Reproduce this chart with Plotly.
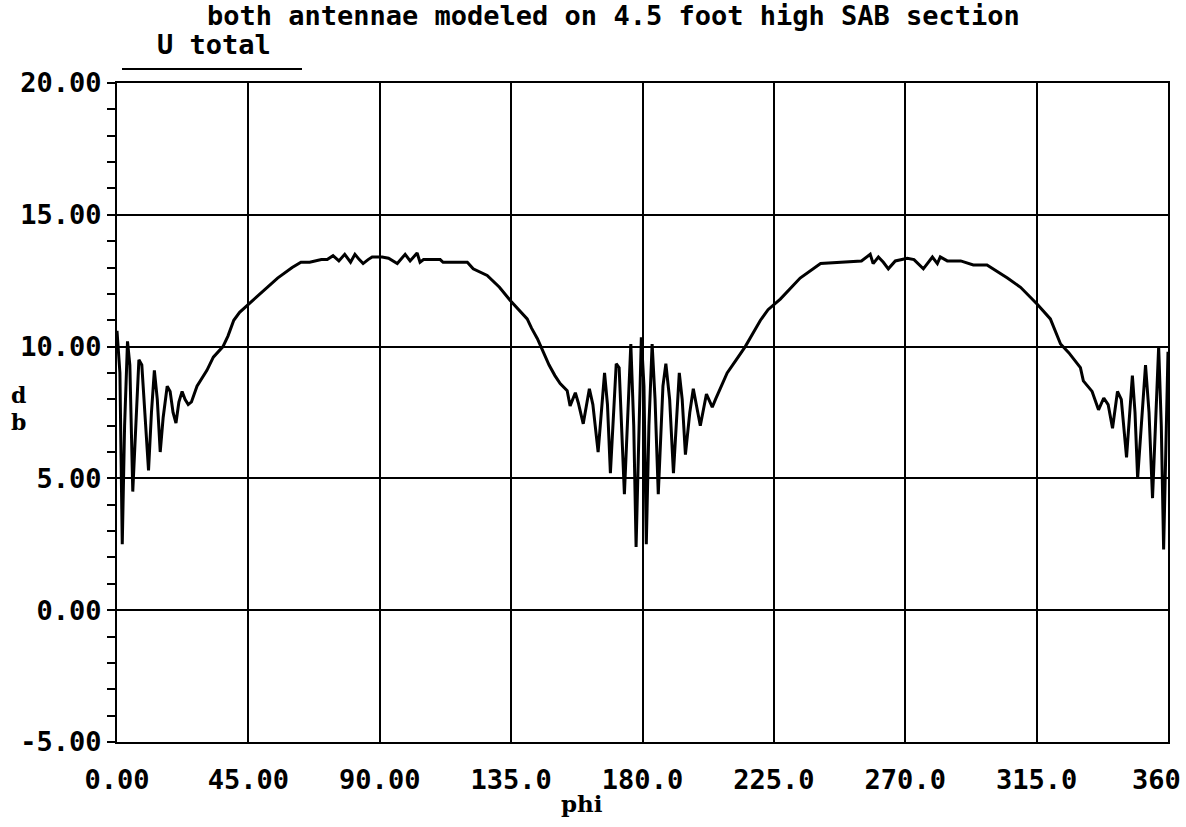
import plotly.graph_objects as go

phi = [0, 1, 1.8, 2.6, 3.6, 4.4, 5.4, 6.3, 7.5, 8.5, 9.5, 10.8, 11.8, 12.8, 13.8, 14.8, 15.8,
       17.2, 18.2, 19.2, 20.2, 21.2, 22.3, 23.3, 24.4, 25.5, 27.4, 29, 30.8, 33, 36.3, 38, 40,
       42, 45, 50, 55, 60, 63, 66, 70, 72, 74, 76, 78, 80, 81.5, 83, 84.3, 86, 87.4, 90.8, 93,
       96, 98.7, 100.4, 102.8, 103.8, 105, 110.7, 111.7, 120, 122, 126.8, 131, 134.7, 140.5,
       142, 144, 146, 148, 150, 151.8, 154.2, 155.2, 157, 158, 159.7, 161.8, 163, 164.8, 167,
       168, 169, 171, 172, 173.8, 176, 177, 177.8, 178.5, 179.6, 180.5, 181.3, 182.2, 183.3,
       184.3, 185.4, 187, 188, 189.3, 190.6, 192.6, 193.6, 194.7, 196.2, 197.4, 198.5, 199.8,
       201.9, 203.9, 205, 206.6, 209, 211.8, 215.2, 220.4, 223, 227.2, 234, 241, 250, 255, 258,
       259, 260.8, 262.5, 264.2, 266.6, 270.7, 273, 276.2, 279.3, 281, 282, 284.4, 289, 293.3,
       298, 305, 309.5, 315.3, 319.7, 323.2, 326, 330, 331, 334, 336.2, 338, 339.5, 341, 342.7,
       344, 345.8, 347.8, 348.7, 349.6, 352.3, 353.5, 354.7, 356.8, 357.7, 358.5, 359.3, 360]

u_total_db = [10.6, 9.0, 2.5, 7.0, 10.2, 9.3, 4.5, 6.5, 9.5, 9.3, 7.5, 5.3, 7.5, 9.1, 8.0, 6.0, 7.3,
              8.5, 8.3, 7.5, 7.1, 7.9, 8.3, 8.0, 7.8, 7.9, 8.5, 8.8, 9.1, 9.6, 10.0, 10.4, 11.0,
              11.3, 11.6, 12.1, 12.6, 13.0, 13.2, 13.2, 13.3, 13.3, 13.45, 13.25, 13.5, 13.2, 13.5,
              13.3, 13.15, 13.3, 13.4, 13.4, 13.35, 13.15, 13.5, 13.25, 13.55, 13.2, 13.3, 13.3,
              13.2, 13.2, 12.95, 12.7, 12.25, 11.75, 11.05, 10.7, 10.3, 9.8, 9.3, 8.9, 8.6, 8.33,
              7.75, 8.25, 7.87, 7.07, 8.4, 7.8, 6.0, 9.0, 7.8, 5.2, 9.35, 9.2, 4.4, 10.1, 7.0, 2.4,
              6.0, 10.35, 8.5, 2.5, 7.0, 10.1, 8.0, 4.4, 8.5, 9.35, 8.0, 5.2, 9.0, 8.0, 5.9, 7.5,
              8.4, 7.8, 7.0, 8.2, 7.7, 8.0, 8.4, 9.0, 9.45, 10.0, 11.0, 11.4, 11.8, 12.6, 13.15,
              13.2, 13.25, 13.5, 13.15, 13.4, 13.2, 12.95, 13.25, 13.35, 13.3, 12.95, 13.4, 13.15,
              13.4, 13.25, 13.25, 13.1, 13.1, 12.6, 12.25, 11.6, 11.05, 10.1, 9.77, 9.2, 8.7, 8.3,
              7.6, 8.05, 7.8, 6.9, 8.3, 8.0, 5.8, 8.9, 7.5, 5.0, 9.3, 7.5, 4.25, 10.0, 7.0, 2.3,
              6.0, 9.8]

x_tickvals = [0, 45, 90, 135, 180, 225, 270, 315, 360]
x_ticktext = ["0.00", "45.00", "90.00", "135.0", "180.0", "225.0", "270.0", "315.0", "360"]
y_tickvals = [-5, 0, 5, 10, 15, 20]
y_ticktext = ["-5.00", "0.00", "5.00", "10.00", "15.00", "20.00"]

title_text = "both antennae modeled on 4.5 foot high SAB section"
series_name = "U total"

MONO = "DejaVu Sans Mono"
SERIF = "DejaVu Serif"

fig = go.Figure()
fig.add_trace(go.Scatter(x=phi, y=u_total_db, mode="lines", name=series_name,
                         line=dict(color="black", width=3), showlegend=False))

axis_common = dict(showgrid=True, gridcolor="black", gridwidth=1.8, zeroline=False,
                   showline=True, linecolor="black", linewidth=2.2, mirror=True,
                   automargin=False)

# the last x label ("360") sits at the right edge of the page, so it is drawn
# right-aligned as an annotation; the others come from the axis itself
fig.update_xaxes(range=[0, 360], tickvals=x_tickvals[:-1], ticktext=x_ticktext[:-1], ticks="",
                 ticklabelstandoff=12,
                 tickfont=dict(family=MONO, size=27, color="black", weight="bold"),
                 **axis_common)
fig.update_yaxes(range=[-5, 20], tickvals=y_tickvals, ticktext=y_ticktext, ticks="outside",
                 ticklen=8, tickwidth=1.8, tickcolor="black", ticklabeloverflow="allow",
                 minor=dict(dtick=1, ticks="outside", ticklen=8, tickwidth=1.8,
                            tickcolor="black", showgrid=False),
                 tickfont=dict(family=MONO, size=27, color="black", weight="bold"),
                 **axis_common)

fig.update_layout(
    width=1186, height=827,
    margin=dict(l=117, r=18, t=83, b=85, autoexpand=False),
    paper_bgcolor="white", plot_bgcolor="white",
    annotations=[
        dict(text=title_text, x=0.472, y=1.103, xref="paper", yref="paper",
             xanchor="center", yanchor="middle", showarrow=False,
             font=dict(family=MONO, size=27, color="black", weight="bold")),
        dict(text=series_name, x=0.036, y=1.058, xref="paper", yref="paper",
             xanchor="left", yanchor="middle", showarrow=False,
             font=dict(family=MONO, size=27, color="black", weight="bold")),
        dict(text=x_ticktext[-1], x=x_tickvals[-1], xref="x", y=(742 - 779) / 659, yref="paper",
             xanchor="right", yanchor="middle", xshift=15, showarrow=False,
             font=dict(family=MONO, size=27, color="black", weight="bold")),
        dict(text="d", x=-0.094, y=(742 - 395) / 659, xref="paper", yref="paper",
             xanchor="center", yanchor="middle", showarrow=False,
             font=dict(family=SERIF, size=22, color="black", weight="bold")),
        dict(text="b", x=-0.094, y=(742 - 422) / 659, xref="paper", yref="paper",
             xanchor="center", yanchor="middle", showarrow=False,
             font=dict(family=SERIF, size=22, color="black", weight="bold")),
        dict(text="phi", x=(582 - 117) / 1051, y=(742 - 804) / 659, xref="paper", yref="paper",
             xanchor="center", yanchor="middle", showarrow=False,
             font=dict(family=SERIF, size=23, color="black", weight="bold")),
    ],
    shapes=[
        dict(type="line", xref="paper", yref="paper", x0=(122 - 117) / 1051, x1=(302 - 117) / 1051,
             y0=(742 - 69) / 659, y1=(742 - 69) / 659, line=dict(color="black", width=2)),
    ],
)

fig.write_html("out.html")
